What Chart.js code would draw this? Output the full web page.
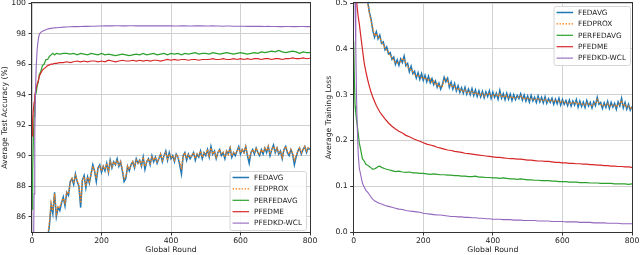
<!DOCTYPE html>
<html>
<head>
<meta charset="utf-8">
<script src="https://cdn.jsdelivr.net/npm/chart.js@4.4.0/dist/chart.umd.min.js"></script>
<style>
  html, body { margin: 0; padding: 0; background: #fff; }
  #wrap { position: relative; width: 640px; height: 255px; }
  .panel { position: absolute; top: 0; width: 320px; height: 255px; }
  #left { left: 0; }
  #right { left: 320px; }
  canvas { width: 320px; height: 255px; }
</style>
</head>
<body>
<div id="wrap">
  <div class="panel" id="left"><canvas id="accChart" width="320" height="255"></canvas></div>
  <div class="panel" id="right"><canvas id="lossChart" width="320" height="255"></canvas></div>
</div>
<script>
const FONT = '"DejaVu Sans", sans-serif';
const METHODS = ['FEDAVG', 'FEDPROX', 'PERFEDAVG', 'PFEDME', 'PFEDKD-WCL'];
const COLORS = ['#1f77b4', '#ff7f0e', '#2ca02c', '#d62728', '#9467bd'];
const WIDTHS = [1.5, 1.3, 1.2, 1.2, 1.1];

const roundTicks = [0, 200, 400, 600, 800];
const accTicks = [86, 88, 90, 92, 94, 96, 98, 100];
const lossTicks = [0.0, 0.1, 0.2, 0.3, 0.4, 0.5];

// ---- left: test accuracy ----
// fedavg / fedprox read every 5 rounds, starting at round 45 (below 85 before that)
const accNoisyStart = 45;
const accFedAvg = [
  84.6, 85.4, 86.8, 86.2, 87.6, 86.0, 86.6, 86.4, 86.9, 87.3,
  86.7, 87.6, 87.4, 88.3, 88.5, 88.1, 88.8, 88.3, 88.0, 86.6,
  88.4, 88.7, 87.9, 88.6, 88.2, 88.8, 89.4, 89.0, 88.3, 89.2,
  89.4, 88.9, 89.3, 89.0, 89.5, 88.9, 89.7, 89.2, 89.6, 89.4,
  89.8, 89.3, 89.6, 89.0, 88.3, 88.5, 89.3, 89.0, 89.4, 89.6,
  89.2, 89.8, 89.5, 89.7, 89.3, 89.9, 89.1, 89.6, 89.8, 89.4,
  90.0, 89.6, 89.9, 89.5, 89.8, 90.1, 89.6, 90.0, 90.3, 89.7,
  90.2, 89.8, 90.0, 89.6, 90.1, 89.9, 89.4, 88.8, 90.0, 90.2,
  89.7, 90.1, 89.8, 90.0, 90.2, 89.7, 90.1, 89.9, 90.3, 89.8,
  90.2, 90.0, 90.4, 89.9, 90.6, 90.1, 90.3, 89.8, 90.2, 90.4,
  90.0, 90.2, 89.8, 90.3, 90.1, 90.5, 89.9, 90.2, 90.0, 90.3,
  90.6, 90.1, 90.4, 90.2, 90.6, 90.0, 89.5, 90.2, 90.4, 90.1,
  90.5, 90.2, 90.0, 90.4, 90.1, 90.5, 90.2, 90.6, 90.0, 90.4,
  90.7, 90.2, 90.5, 90.1, 90.3, 89.8, 90.4, 90.6, 90.2, 90.0,
  90.4, 90.1, 89.4, 89.9, 90.3, 90.5, 90.1, 90.4, 90.6, 90.2,
  90.5, 90.4
];
const accFedProx = [
  84.7, 85.6, 86.9, 86.4, 87.5, 86.2, 86.7, 86.6, 87.0, 87.2,
  86.9, 87.6, 87.5, 88.2, 88.5, 88.2, 88.7, 88.4, 88.1, 86.9,
  88.4, 88.6, 88.0, 88.6, 88.3, 88.8, 89.3, 89.0, 88.5, 89.2,
  89.3, 89.0, 89.3, 89.1, 89.5, 89.0, 89.6, 89.3, 89.6, 89.4,
  89.7, 89.4, 89.6, 89.1, 88.5, 88.6, 89.3, 89.1, 89.4, 89.6,
  89.3, 89.7, 89.5, 89.7, 89.4, 89.9, 89.3, 89.6, 89.8, 89.5,
  89.9, 89.7, 89.9, 89.6, 89.8, 90.1, 89.7, 90.0, 90.2, 89.8,
  90.1, 89.9, 90.0, 89.7, 90.1, 89.9, 89.6, 89.1, 90.0, 90.2,
  89.8, 90.1, 89.9, 90.0, 90.2, 89.8, 90.1, 90.0, 90.3, 89.9,
  90.2, 90.1, 90.4, 90.0, 90.5, 90.1, 90.3, 89.9, 90.2, 90.4,
  90.1, 90.2, 89.9, 90.3, 90.1, 90.5, 90.0, 90.2, 90.1, 90.3,
  90.5, 90.2, 90.4, 90.2, 90.6, 90.1, 89.8, 90.2, 90.4, 90.2,
  90.5, 90.2, 90.1, 90.4, 90.2, 90.5, 90.3, 90.6, 90.1, 90.4,
  90.6, 90.3, 90.5, 90.2, 90.3, 89.9, 90.4, 90.6, 90.3, 90.1,
  90.4, 90.2, 89.7, 90.0, 90.3, 90.5, 90.2, 90.4, 90.6, 90.3,
  90.5, 90.4
];

// the other three: dense at the start, then every 10 rounds from 100
const accEarlyRounds = [0, 2, 4, 6, 8, 10, 12, 15, 18, 21, 25, 30, 35, 40, 45, 50, 55, 60, 65, 70, 80, 90];
const accPerFedAvg = [
  86.5, 89.0, 91.2, 92.6, 93.5, 94.0, 94.1, 94.6, 94.8, 95.3, 95.5,
  95.9, 96.0, 96.3, 96.3, 96.5, 96.6, 96.7, 96.6, 96.7, 96.65, 96.7,
  96.7, 96.65, 96.7, 96.6, 96.7, 96.65, 96.6, 96.7, 96.65, 96.6,
  96.7, 96.6, 96.65, 96.6, 96.55, 96.6, 96.65, 96.6, 96.55, 96.6,
  96.65, 96.6, 96.7, 96.6, 96.65, 96.7, 96.6, 96.65, 96.7, 96.6,
  96.7, 96.65, 96.7, 96.6, 96.7, 96.65, 96.7, 96.75, 96.65, 96.7,
  96.7, 96.65, 96.75, 96.7, 96.65, 96.7, 96.75, 96.7, 96.65, 96.7,
  96.75, 96.7, 96.65, 96.7, 96.75, 96.7, 96.8, 96.75, 96.8, 96.85,
  96.8, 96.9, 96.8, 96.75, 96.8, 96.85, 96.8, 96.7, 96.8, 96.75, 96.75
];
const accPFedMe = [
  91.3, 92.4, 93.0, 93.5, 93.9, 94.2, 94.4, 94.7, 94.9, 95.2, 95.4,
  95.6, 95.7, 95.8, 95.9, 95.95, 96.0, 96.0, 96.05, 96.05, 96.1, 96.1,
  96.15, 96.1, 96.15, 96.2, 96.15, 96.2, 96.15, 96.2, 96.2, 96.15,
  96.2, 96.15, 96.25, 96.2, 96.15, 96.2, 96.25, 96.2, 96.2, 96.25,
  96.2, 96.25, 96.2, 96.25, 96.2, 96.25, 96.25, 96.2, 96.25, 96.3,
  96.25, 96.3, 96.25, 96.3, 96.3, 96.25, 96.3, 96.3, 96.25, 96.3,
  96.3, 96.3, 96.35, 96.3, 96.3, 96.35, 96.3, 96.3, 96.35, 96.3,
  96.35, 96.3, 96.35, 96.3, 96.35, 96.35, 96.3, 96.35, 96.35, 96.3,
  96.35, 96.35, 96.3, 96.35, 96.35, 96.4, 96.35, 96.35, 96.4, 96.35, 96.38
];
const accPFedKD = [
  70.0, 76.0, 82.5, 87.5, 91.5, 94.0, 95.8, 97.0, 97.6, 97.95, 98.08,
  98.15, 98.2, 98.25, 98.3, 98.32, 98.34, 98.36, 98.37, 98.38, 98.4, 98.42,
  98.43, 98.44, 98.45, 98.45, 98.46, 98.47, 98.47, 98.48, 98.48, 98.49,
  98.49, 98.5, 98.5, 98.5, 98.51, 98.51, 98.5, 98.5, 98.51, 98.51,
  98.5, 98.5, 98.51, 98.5, 98.5, 98.5, 98.51, 98.5, 98.5, 98.5,
  98.5, 98.49, 98.49, 98.5, 98.5, 98.49, 98.49, 98.5, 98.5, 98.5,
  98.49, 98.49, 98.5, 98.49, 98.49, 98.48, 98.49, 98.49, 98.48, 98.48,
  98.48, 98.48, 98.47, 98.48, 98.47, 98.47, 98.47, 98.46, 98.47, 98.46,
  98.46, 98.45, 98.45, 98.46, 98.46, 98.45, 98.45, 98.46, 98.46, 98.45, 98.45
];

// ---- right: training loss ----
const lossNoisyStart = 35;
const lossFedAvg = [
  0.535, 0.505, 0.480, 0.465, 0.440, 0.425, 0.437, 0.422, 0.430, 0.412,
  0.415, 0.398, 0.404, 0.389, 0.392, 0.377, 0.382, 0.366, 0.376, 0.364,
  0.378, 0.370, 0.384, 0.363, 0.368, 0.350, 0.362, 0.346, 0.351, 0.336,
  0.348, 0.333, 0.346, 0.331, 0.342, 0.328, 0.340, 0.326, 0.335, 0.322,
  0.330, 0.316, 0.325, 0.312, 0.322, 0.338, 0.328, 0.336, 0.316, 0.327,
  0.312, 0.324, 0.308, 0.319, 0.305, 0.315, 0.303, 0.316, 0.301, 0.312,
  0.300, 0.313, 0.298, 0.310, 0.296, 0.308, 0.295, 0.307, 0.293, 0.306,
  0.296, 0.308, 0.292, 0.305, 0.294, 0.303, 0.290, 0.309, 0.292, 0.302,
  0.289, 0.303, 0.290, 0.301, 0.287, 0.300, 0.289, 0.298, 0.291, 0.302,
  0.288, 0.299, 0.286, 0.297, 0.284, 0.298, 0.286, 0.294, 0.283, 0.297,
  0.284, 0.294, 0.282, 0.295, 0.281, 0.291, 0.283, 0.292, 0.279, 0.290,
  0.280, 0.292, 0.277, 0.289, 0.279, 0.287, 0.276, 0.288, 0.275, 0.286,
  0.277, 0.289, 0.273, 0.286, 0.274, 0.284, 0.272, 0.287, 0.275, 0.283,
  0.271, 0.284, 0.276, 0.294, 0.279, 0.283, 0.270, 0.282, 0.272, 0.285,
  0.270, 0.283, 0.273, 0.281, 0.268, 0.284, 0.275, 0.292, 0.271, 0.283,
  0.268, 0.279, 0.266, 0.274
];
const lossFedProx = [
  0.530, 0.500, 0.478, 0.460, 0.445, 0.428, 0.433, 0.426, 0.424, 0.416,
  0.409, 0.402, 0.397, 0.393, 0.385, 0.381, 0.374, 0.371, 0.369, 0.370,
  0.372, 0.379, 0.376, 0.369, 0.360, 0.356, 0.354, 0.350, 0.343, 0.342,
  0.340, 0.341, 0.337, 0.338, 0.333, 0.336, 0.331, 0.334, 0.327, 0.330,
  0.321, 0.324, 0.316, 0.320, 0.318, 0.332, 0.335, 0.330, 0.320, 0.322,
  0.316, 0.318, 0.312, 0.314, 0.309, 0.311, 0.307, 0.310, 0.305, 0.307,
  0.304, 0.307, 0.302, 0.305, 0.300, 0.303, 0.299, 0.302, 0.297, 0.301,
  0.300, 0.302, 0.297, 0.300, 0.298, 0.299, 0.296, 0.302, 0.296, 0.298,
  0.294, 0.298, 0.294, 0.296, 0.292, 0.295, 0.293, 0.294, 0.295, 0.297,
  0.292, 0.294, 0.290, 0.292, 0.289, 0.292, 0.290, 0.290, 0.288, 0.291,
  0.288, 0.289, 0.287, 0.290, 0.285, 0.287, 0.287, 0.288, 0.284, 0.286,
  0.285, 0.287, 0.282, 0.285, 0.283, 0.283, 0.281, 0.283, 0.280, 0.282,
  0.281, 0.284, 0.278, 0.281, 0.279, 0.280, 0.277, 0.282, 0.279, 0.279,
  0.276, 0.279, 0.280, 0.289, 0.282, 0.279, 0.275, 0.278, 0.277, 0.280,
  0.275, 0.278, 0.277, 0.277, 0.273, 0.279, 0.279, 0.287, 0.275, 0.278,
  0.273, 0.275, 0.270, 0.272
];

const lossEarlyRounds = [0, 2, 4, 6, 8, 10, 13, 16, 20, 25, 30, 35, 40, 45, 50, 55, 60, 65, 70, 75, 80, 90];
const lossPerFedAvg = [
  0.416, 0.33, 0.275, 0.26, 0.245, 0.235, 0.215, 0.195, 0.18, 0.16, 0.155,
  0.148, 0.146, 0.143, 0.14, 0.137, 0.138, 0.14, 0.143, 0.144, 0.141, 0.138,
  0.136, 0.134, 0.132, 0.133, 0.131, 0.130, 0.131, 0.129, 0.129, 0.128,
  0.128, 0.127, 0.126, 0.127, 0.126, 0.125, 0.125, 0.124, 0.124, 0.123,
  0.123, 0.122, 0.122, 0.121, 0.121, 0.122, 0.120, 0.120, 0.119, 0.119,
  0.118, 0.118, 0.117, 0.118, 0.117, 0.116, 0.116, 0.115, 0.116, 0.115,
  0.114, 0.114, 0.113, 0.113, 0.112, 0.112, 0.112, 0.111, 0.111, 0.110,
  0.110, 0.110, 0.109, 0.109, 0.109, 0.108, 0.108, 0.108, 0.107, 0.107,
  0.107, 0.106, 0.106, 0.106, 0.106, 0.105, 0.105, 0.105, 0.105, 0.104, 0.105
];
const lossPFedMe = [
  0.68, 0.62, 0.57, 0.535, 0.508, 0.49, 0.47, 0.455, 0.43, 0.40, 0.37,
  0.35, 0.333, 0.318, 0.305, 0.294, 0.285, 0.276, 0.269, 0.262, 0.257, 0.247,
  0.238, 0.231, 0.225, 0.220, 0.216, 0.211, 0.208, 0.204, 0.201, 0.198,
  0.195, 0.192, 0.190, 0.188, 0.185, 0.183, 0.181, 0.179, 0.178, 0.176,
  0.175, 0.174, 0.172, 0.171, 0.170, 0.169, 0.168, 0.167, 0.166, 0.165,
  0.164, 0.163, 0.163, 0.162, 0.161, 0.160, 0.160, 0.159, 0.159, 0.158,
  0.157, 0.157, 0.156, 0.155, 0.155, 0.154, 0.154, 0.153, 0.152, 0.152,
  0.151, 0.151, 0.150, 0.150, 0.149, 0.149, 0.148, 0.148, 0.147, 0.147,
  0.146, 0.146, 0.145, 0.145, 0.144, 0.144, 0.143, 0.143, 0.142, 0.142, 0.141
];
const lossPFedKD = [
  0.66, 0.58, 0.50, 0.40, 0.30, 0.235, 0.17, 0.14, 0.125, 0.107, 0.098,
  0.091, 0.087, 0.082, 0.076, 0.071, 0.068, 0.066, 0.064, 0.062, 0.061, 0.058,
  0.056, 0.054, 0.052, 0.050, 0.049, 0.047, 0.046, 0.045, 0.044, 0.043,
  0.041, 0.040, 0.039, 0.038, 0.037, 0.037, 0.036, 0.035, 0.034, 0.034,
  0.033, 0.033, 0.032, 0.032, 0.031, 0.031, 0.030, 0.030, 0.029, 0.029,
  0.028, 0.028, 0.028, 0.027, 0.027, 0.027, 0.026, 0.026, 0.026, 0.025,
  0.025, 0.025, 0.025, 0.024, 0.024, 0.024, 0.024, 0.023, 0.023, 0.023,
  0.023, 0.022, 0.022, 0.022, 0.022, 0.021, 0.021, 0.021, 0.021, 0.020,
  0.020, 0.020, 0.020, 0.019, 0.019, 0.019, 0.019, 0.018, 0.018, 0.018, 0.018
];

// round numbers for the x axis
function stepRounds(start, step, count) {
    const out = [];
    for (let i = 0; i < count; i++) out.push(start + i * step);
    return out;
}
const lateRounds = stepRounds(100, 10, 71);
const accSmoothRounds = accEarlyRounds.concat(lateRounds);
const lossSmoothRounds = lossEarlyRounds.concat(lateRounds);

function lineSet(idx, rounds, values) {
    return {
        label: METHODS[idx],
        data: values.map((v, i) => ({ x: rounds[i], y: v })),
        borderColor: COLORS[idx],
        backgroundColor: COLORS[idx],
        borderWidth: WIDTHS[idx],
        borderDash: idx === 1 ? [1.5, 1.5] : [],
        pointRadius: 0,
        tension: 0,
        fill: false,
        order: 5 - idx // matplotlib draws later series on top
    };
}

// black box round the plot, like matplotlib spines
const framePlugin = {
    id: 'frame',
    afterDatasetsDraw(chart) {
        const { ctx, chartArea: a } = chart;
        ctx.save();
        ctx.strokeStyle = '#333';
        ctx.lineWidth = 1;
        ctx.strokeRect(Math.round(a.left) - 0.5, Math.round(a.top) - 0.5,
            Math.round(a.right - a.left) + 1, Math.round(a.bottom - a.top) + 1);
        ctx.restore();
    }
};

// legend drawn inside the plot area
const boxLegend = {
    id: 'boxLegend',
    afterDraw(chart, args, opts) {
        const { ctx, chartArea: a } = chart;
        const sets = chart.data.datasets;
        ctx.save();
        ctx.font = '7.3px ' + FONT;
        const textW = Math.max(...sets.map(d => ctx.measureText(d.label).width));
        const w = 3 + 16.5 + 5 + textW + 4;
        const h = 59;
        const x = a.right - opts.marginRight - w;
        const y = opts.corner === 'top' ? a.top + opts.marginY : a.bottom - opts.marginY - h;

        ctx.beginPath();
        if (ctx.roundRect) ctx.roundRect(x + 0.5, y + 0.5, w, h, 2);
        else ctx.rect(x + 0.5, y + 0.5, w, h);
        ctx.fillStyle = 'rgba(255,255,255,0.85)';
        ctx.fill();
        ctx.strokeStyle = '#d6d6d6';
        ctx.lineWidth = 1;
        ctx.stroke();

        sets.forEach((d, i) => {
            const ly = y + 6.5 + i * 11.4;
            ctx.beginPath();
            ctx.setLineDash(d.borderDash || []);
            ctx.strokeStyle = d.borderColor;
            ctx.lineWidth = d.borderWidth;
            ctx.moveTo(x + 3, ly);
            ctx.lineTo(x + 19.5, ly);
            ctx.stroke();
            ctx.setLineDash([]);
            ctx.fillStyle = '#222';
            ctx.textBaseline = 'middle';
            ctx.textAlign = 'left';
            ctx.fillText(d.label, x + 24.5, ly + 0.5);
        });
        ctx.restore();
    }
};

function makeChart(canvasId, datasets, panel) {
    return new Chart(document.getElementById(canvasId), {
        type: 'line',
        data: { datasets: datasets },
        plugins: [framePlugin, boxLegend],
        options: {
            responsive: false,
            animation: false,
            devicePixelRatio: 1,
            layout: { padding: { left: 0, top: 3, right: panel.padRight, bottom: 0 } },
            plugins: {
                legend: { display: false },
                tooltip: { enabled: false },
                boxLegend: panel.legend
            },
            scales: {
                x: {
                    type: 'linear',
                    min: 0,
                    max: 800,
                    afterBuildTicks: s => { s.ticks = roundTicks.map(v => ({ value: v })); },
                    afterFit: s => { s.height = 23; s.paddingLeft = 0; s.paddingRight = 0; },
                    ticks: { color: '#222', font: { family: FONT, size: 7.7 }, padding: 1, maxRotation: 0 },
                    grid: { color: '#d0d0d0', lineWidth: 1, tickLength: 3.5, tickColor: '#333' },
                    border: { display: false },
                    title: {
                        display: true, text: 'Global Round', color: '#222',
                        font: { family: FONT, size: 7.7 }, padding: { top: 0, bottom: 0 }
                    }
                },
                y: {
                    type: 'linear',
                    min: panel.yMin,
                    max: panel.yMax,
                    afterBuildTicks: s => { s.ticks = panel.yTicks.map(v => ({ value: v })); },
                    afterFit: s => { s.width = panel.yWidth; s.paddingTop = 0; s.paddingBottom = 0; },
                    ticks: {
                        color: '#222', font: { family: FONT, size: 7.7 }, padding: 2.5,
                        callback: panel.yFormat
                    },
                    grid: { color: '#d0d0d0', lineWidth: 1, tickLength: 3.5, tickColor: '#333' },
                    border: { display: false },
                    title: {
                        display: true, text: panel.yTitle, color: '#222',
                        font: { family: FONT, size: 7.7 }, padding: { top: panel.yTitlePad, bottom: 0 }
                    }
                }
            }
        }
    });
}

const accSets = [
    lineSet(0, stepRounds(accNoisyStart, 5, accFedAvg.length), accFedAvg),
    lineSet(1, stepRounds(accNoisyStart, 5, accFedProx.length), accFedProx),
    lineSet(2, accSmoothRounds, accPerFedAvg),
    lineSet(3, accSmoothRounds, accPFedMe),
    lineSet(4, accSmoothRounds, accPFedKD)
];

const lossSets = [
    lineSet(0, stepRounds(lossNoisyStart, 5, lossFedAvg.length), lossFedAvg),
    lineSet(1, stepRounds(lossNoisyStart, 5, lossFedProx.length), lossFedProx),
    lineSet(2, lossSmoothRounds, lossPerFedAvg),
    lineSet(3, lossSmoothRounds, lossPFedMe),
    lineSet(4, lossSmoothRounds, lossPFedKD)
];

makeChart('accChart', accSets, {
    padRight: 10, yWidth: 32, yMin: 85, yMax: 100, yTicks: accTicks,
    yFormat: v => String(v), yTitle: 'Average Test Accuracy (%)', yTitlePad: 0.4,
    legend: { corner: 'bottom', marginRight: 4, marginY: 2 }
});

makeChart('lossChart', lossSets, {
    padRight: 8, yWidth: 33.7, yMin: 0, yMax: 0.5, yTicks: lossTicks,
    yFormat: v => v.toFixed(1), yTitle: 'Average Training Loss', yTitlePad: 4.7,
    legend: { corner: 'top', marginRight: 2, marginY: 3 }
});
</script>
</body>
</html>
